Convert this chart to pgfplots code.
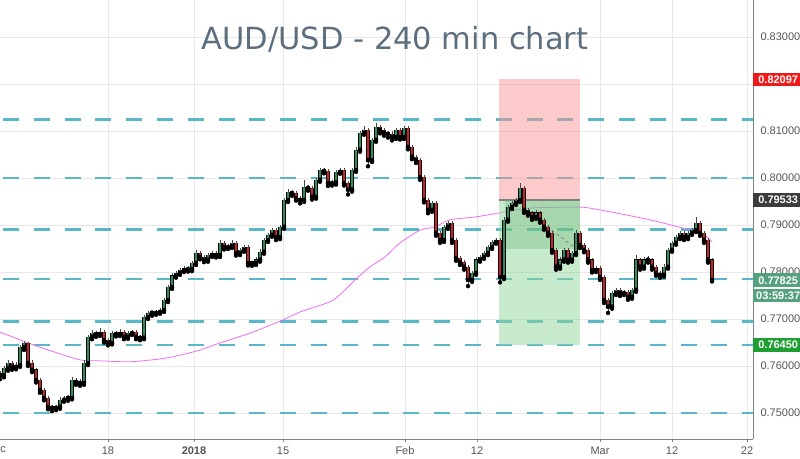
\documentclass[border=0pt]{standalone}
\usepackage{pgfplots}
\usepackage{pgfplotstable}
\pgfplotsset{compat=1.18}
\usepackage{fontspec}
\setmainfont{Liberation Sans}
\newfontfamily\titlefont{DejaVu Sans}

\definecolor{gridgray}{RGB}{232,232,232}
\definecolor{axisgray}{RGB}{130,130,130}
\definecolor{labelgray}{RGB}{85,85,85}
\definecolor{titlecol}{RGB}{93,110,126}
\definecolor{dashcyan}{RGB}{88,184,200}
\definecolor{macol}{RGB}{240,110,240}
\definecolor{upc}{RGB}{45,145,95}
\definecolor{dnc}{RGB}{200,35,40}
\definecolor{wick}{RGB}{70,70,70}
\definecolor{lblred}{RGB}{240,25,25}
\definecolor{lbldark}{RGB}{60,60,60}
\definecolor{lblteal}{RGB}{85,160,125}
\definecolor{lblgreen}{RGB}{30,158,50}
\definecolor{boxred}{RGB}{250,150,150}
\definecolor{boxgreen}{RGB}{145,215,155}
\definecolor{boxgreen2}{RGB}{90,170,100}

\pgfplotstableread{
x o h l c
0 0.7585 0.7590 0.7572 0.7580
4 0.7580 0.7600 0.7576 0.7596
8 0.7596 0.7612 0.7590 0.7606
12 0.7606 0.7610 0.7592 0.7598
16 0.7598 0.7608 0.7593 0.7602
20 0.7602 0.7645 0.7598 0.7640
24 0.7640 0.7653 0.7634 0.7648
28 0.7648 0.7651 0.7600 0.7606
32 0.7606 0.7612 0.7587 0.7592
36 0.7592 0.7596 0.7565 0.7570
40 0.7570 0.7575 0.7543 0.7549
44 0.7549 0.7553 0.7527 0.7532
48 0.7532 0.7536 0.7508 0.7513
52 0.7513 0.7518 0.7504 0.7511
56 0.7511 0.7518 0.7506 0.7513
60 0.7513 0.7533 0.7509 0.7528
64 0.7528 0.7537 0.7524 0.7532
68 0.7532 0.7538 0.7526 0.7532
72 0.7532 0.7576 0.7529 0.7570
76 0.7570 0.7575 0.7560 0.7566
80 0.7566 0.7572 0.7558 0.7564
84 0.7564 0.7612 0.7560 0.7606
88 0.7606 0.7666 0.7602 0.7662
92 0.7662 0.7676 0.7657 0.7670
96 0.7670 0.7674 0.7662 0.7668
100 0.7668 0.7680 0.7664 0.7672
104 0.7672 0.7676 0.7650 0.7655
108 0.7655 0.7659 0.7644 0.7649
112 0.7649 0.7675 0.7646 0.7670
116 0.7670 0.7674 0.7663 0.7668
120 0.7668 0.7678 0.7664 0.7672
124 0.7672 0.7676 0.7657 0.7662
128 0.7662 0.7675 0.7658 0.7670
132 0.7670 0.7677 0.7666 0.7672
136 0.7672 0.7676 0.7657 0.7662
140 0.7662 0.7666 0.7655 0.7660
144 0.7660 0.7708 0.7657 0.7704
148 0.7704 0.7718 0.7700 0.7713
152 0.7713 0.7718 0.7707 0.7713
156 0.7713 0.7720 0.7709 0.7715
160 0.7715 0.7724 0.7711 0.7719
164 0.7719 0.7745 0.7715 0.7740
168 0.7740 0.7773 0.7736 0.7768
172 0.7768 0.7797 0.7764 0.7792
176 0.7792 0.7803 0.7788 0.7798
180 0.7798 0.7809 0.7794 0.7804
184 0.7804 0.7812 0.7800 0.7808
188 0.7808 0.7812 0.7801 0.7806
192 0.7806 0.7824 0.7802 0.7819
196 0.7819 0.7846 0.7815 0.7840
200 0.7840 0.7844 0.7827 0.7832
204 0.7832 0.7836 0.7821 0.7826
208 0.7826 0.7841 0.7822 0.7836
212 0.7836 0.7845 0.7832 0.7840
216 0.7840 0.7844 0.7831 0.7836
220 0.7836 0.7868 0.7832 0.7862
224 0.7862 0.7866 0.7848 0.7853
228 0.7853 0.7860 0.7849 0.7855
232 0.7855 0.7868 0.7851 0.7862
236 0.7862 0.7866 0.7835 0.7840
240 0.7840 0.7852 0.7836 0.7847
244 0.7847 0.7858 0.7843 0.7853
248 0.7853 0.7857 0.7814 0.7819
252 0.7819 0.7824 0.7813 0.7819
256 0.7819 0.7831 0.7815 0.7826
260 0.7826 0.7848 0.7822 0.7843
264 0.7843 0.7873 0.7839 0.7868
268 0.7868 0.7884 0.7864 0.7879
272 0.7879 0.7894 0.7875 0.7889
276 0.7889 0.7893 0.7868 0.7874
280 0.7874 0.7901 0.7870 0.7896
284 0.7896 0.7958 0.7892 0.7953
288 0.7953 0.7976 0.7949 0.7970
292 0.7970 0.7975 0.7962 0.7968
296 0.7968 0.7972 0.7952 0.7957
300 0.7957 0.7961 0.7946 0.7953
304 0.7953 0.7995 0.7949 0.7981
308 0.7981 0.7986 0.7973 0.7979
312 0.7979 0.7983 0.7954 0.7960
316 0.7960 0.8001 0.7956 0.7996
320 0.7996 0.8022 0.7992 0.8017
324 0.8017 0.8021 0.8010 0.8015
328 0.8015 0.8019 0.7983 0.7989
332 0.7989 0.7995 0.7984 0.7990
336 0.7990 0.8018 0.7986 0.8013
340 0.8013 0.8022 0.8009 0.8017
344 0.8017 0.8021 0.7984 0.7989
348 0.7989 0.7993 0.7965 0.7975
352 0.7975 0.8022 0.7971 0.8017
356 0.8017 0.8065 0.8013 0.8060
360 0.8060 0.8101 0.8056 0.8096
364 0.8096 0.8110 0.8092 0.8102
368 0.8102 0.8106 0.8025 0.8038
372 0.8038 0.8086 0.8034 0.8081
376 0.8081 0.8118 0.8077 0.8108
380 0.8108 0.8112 0.8095 0.8102
384 0.8102 0.8106 0.8090 0.8096
388 0.8096 0.8101 0.8086 0.8094
392 0.8094 0.8099 0.8080 0.8087
396 0.8087 0.8107 0.8083 0.8102
400 0.8102 0.8106 0.8082 0.8087
404 0.8087 0.8111 0.8083 0.8106
408 0.8106 0.8110 0.8061 0.8066
412 0.8066 0.8070 0.8040 0.8045
416 0.8045 0.8049 0.8032 0.8038
420 0.8038 0.8042 0.7996 0.8002
424 0.8002 0.8006 0.7948 0.7953
428 0.7953 0.7957 0.7925 0.7932
432 0.7932 0.7952 0.7928 0.7947
436 0.7947 0.7951 0.7877 0.7883
440 0.7883 0.7887 0.7862 0.7868
444 0.7868 0.7901 0.7864 0.7896
448 0.7896 0.7909 0.7892 0.7904
452 0.7904 0.7908 0.7862 0.7868
456 0.7868 0.7872 0.7824 0.7830
460 0.7830 0.7834 0.7815 0.7821
464 0.7821 0.7825 0.7805 0.7811
468 0.7811 0.7815 0.7770 0.7783
472 0.7783 0.7803 0.7779 0.7798
476 0.7798 0.7831 0.7794 0.7826
480 0.7826 0.7837 0.7822 0.7832
484 0.7832 0.7845 0.7828 0.7840
488 0.7840 0.7858 0.7836 0.7853
492 0.7853 0.7869 0.7849 0.7864
496 0.7864 0.7873 0.7860 0.7868
500 0.7868 0.7872 0.7778 0.7789
504 0.7789 0.7916 0.7785 0.7911
508 0.7911 0.7943 0.7907 0.7938
512 0.7938 0.7952 0.7934 0.7947
516 0.7947 0.7958 0.7943 0.7953
520 0.7953 0.7990 0.7949 0.7979
524 0.7979 0.7983 0.7926 0.7932
528 0.7932 0.7936 0.7920 0.7926
532 0.7926 0.7930 0.7911 0.7917
536 0.7917 0.7931 0.7913 0.7926
540 0.7926 0.7930 0.7905 0.7911
544 0.7911 0.7915 0.7890 0.7896
548 0.7896 0.7900 0.7877 0.7883
552 0.7883 0.7887 0.7841 0.7847
556 0.7847 0.7851 0.7805 0.7811
560 0.7811 0.7831 0.7807 0.7826
564 0.7826 0.7852 0.7822 0.7847
568 0.7847 0.7851 0.7820 0.7826
572 0.7826 0.7845 0.7822 0.7840
576 0.7840 0.7890 0.7836 0.7883
580 0.7883 0.7887 0.7851 0.7857
584 0.7857 0.7861 0.7842 0.7847
588 0.7847 0.7851 0.7820 0.7826
592 0.7826 0.7830 0.7799 0.7804
596 0.7804 0.7813 0.7800 0.7808
600 0.7808 0.7812 0.7783 0.7789
604 0.7789 0.7793 0.7734 0.7740
608 0.7740 0.7744 0.7713 0.7726
612 0.7726 0.7760 0.7722 0.7755
616 0.7755 0.7767 0.7751 0.7762
620 0.7762 0.7766 0.7749 0.7755
624 0.7755 0.7762 0.7751 0.7757
628 0.7757 0.7761 0.7741 0.7747
632 0.7747 0.7767 0.7743 0.7762
636 0.7762 0.7836 0.7758 0.7826
640 0.7826 0.7830 0.7805 0.7811
644 0.7811 0.7831 0.7807 0.7826
648 0.7826 0.7833 0.7820 0.7826
652 0.7826 0.7830 0.7805 0.7811
656 0.7811 0.7815 0.7792 0.7798
660 0.7798 0.7802 0.7788 0.7794
664 0.7794 0.7816 0.7790 0.7811
668 0.7811 0.7852 0.7807 0.7847
672 0.7847 0.7867 0.7843 0.7862
676 0.7862 0.7879 0.7858 0.7874
680 0.7874 0.7888 0.7870 0.7883
684 0.7883 0.7887 0.7868 0.7874
688 0.7874 0.7888 0.7870 0.7883
692 0.7883 0.7894 0.7879 0.7889
696 0.7889 0.7917 0.7885 0.7904
700 0.7904 0.7908 0.7877 0.7883
704 0.7883 0.7887 0.7862 0.7868
708 0.7868 0.7872 0.7820 0.7826
712 0.7826 0.7830 0.7780 0.7783
}\candles

\pgfplotstableread{
x y
0 0.7672
40 0.7640
80 0.7613
100 0.7611
130 0.7609
160 0.7615
180 0.7623
200 0.7634
220 0.7649
250 0.7670
283 0.7698
300 0.7715
333 0.7740
357 0.7787
370 0.7811
385 0.7832
400 0.7862
420 0.7889
435 0.7896
450 0.7911
475 0.7917
500 0.7926
530 0.7936
580 0.7938
600 0.7932
650 0.7911
700 0.7883
712 0.7864
}\ma

\begin{document}
\begin{tikzpicture}
\begin{axis}[
  at={(0,0)}, anchor=south west,
  width=753pt, height=439pt, scale only axis,
  xmin=0, xmax=753, ymin=0.74447, ymax=0.83787,
  axis x line*=bottom, axis y line*=right,
  axis line style={draw=axisgray, line width=0.8pt},
  xtick={108,194,283,405,477,600,672,747},
  xticklabels={18,\textbf{2018},15,Feb,12,Mar,12,22},
  ytick={0.75,0.76,0.77,0.78,0.79,0.80,0.81,0.82,0.83},
  yticklabels={0.75000,0.76000,0.77000,0.78000,0.79000,0.80000,0.81000,{},0.83000},
  grid=major, major grid style={draw=gridgray, line width=0.7pt},
  tick align=outside, major tick length=3pt,
  xtick style={draw=axisgray},
  ytick style={draw=none},
  ticklabel style={font=\fontsize{11}{13}\selectfont, text=labelgray},
  xticklabel style={anchor=north, yshift=-1pt},
  yticklabel style={anchor=west, xshift=1pt},
]
% dashed support / resistance levels
\pgfplotsset{lvl/.style={dashcyan, line width=2.6pt, dash pattern=on 16pt off 14.8pt}}
\addplot[lvl] coordinates {(3,0.8125) (753,0.8125)};
\addplot[lvl] coordinates {(3,0.8000) (753,0.8000)};
\addplot[lvl] coordinates {(3,0.7890) (753,0.7890)};
\addplot[lvl] coordinates {(3,0.7785) (753,0.7785)};
\addplot[lvl] coordinates {(3,0.7695) (753,0.7695)};
\addplot[lvl] coordinates {(3,0.7645) (753,0.7645)};
\addplot[lvl] coordinates {(3,0.7500) (753,0.7500)};
% moving average
\addplot[macol, line width=0.8pt, smooth, tension=0.4] table[x=x, y=y] {\ma};
% position tool
\addplot[fill=boxred, draw=none, fill opacity=0.5] coordinates {(499,0.79533) (580,0.79533) (580,0.82097) (499,0.82097)} -- cycle;
\addplot[fill=boxgreen, draw=none, fill opacity=0.5] coordinates {(499,0.7645) (580,0.7645) (580,0.79533) (499,0.79533)} -- cycle;
\addplot[fill=boxgreen2, draw=none, fill opacity=0.3] coordinates {(505,0.7850) (580,0.7850) (580,0.79533) (505,0.79533)} -- cycle;
\addplot[draw=gray, line width=1.5pt] coordinates {(499,0.79533) (580,0.79533)};
\addplot[draw=gray, line width=0.8pt, dashed] coordinates {(542,0.7904) (573,0.7855)};
% wicks
\addplot[only marks, mark=none, error bars/.cd, y dir=plus, y explicit, error mark=none,
  error bar style={line width=0.7pt, draw=wick}]
  table[x=x, y=l, y error expr=\thisrow{h}-\thisrow{l}] {\candles};
% up bodies
\addplot[only marks, mark=none, restrict expr to domain={\thisrow{c}-\thisrow{o}}{0:1},
  error bars/.cd, y dir=both, y explicit, error mark=none,
  error bar style={line width=3.1pt, draw=black}]
  table[x=x, y=o, y error plus expr=\thisrow{c}-\thisrow{o}+0.00006, y error minus expr=0.00006] {\candles};
\addplot[only marks, mark=none, restrict expr to domain={\thisrow{c}-\thisrow{o}}{0:1},
  error bars/.cd, y dir=plus, y explicit, error mark=none,
  error bar style={line width=2.3pt, draw=upc}]
  table[x=x, y=o, y error expr=\thisrow{c}-\thisrow{o}] {\candles};
% down bodies
\addplot[only marks, mark=none, restrict expr to domain={\thisrow{o}-\thisrow{c}}{0:1},
  error bars/.cd, y dir=both, y explicit, error mark=none,
  error bar style={line width=3.1pt, draw=black}]
  table[x=x, y=c, y error plus expr=\thisrow{o}-\thisrow{c}+0.00006, y error minus expr=0.00006] {\candles};
\addplot[only marks, mark=none, restrict expr to domain={\thisrow{o}-\thisrow{c}}{0:1},
  error bars/.cd, y dir=plus, y explicit, error mark=none,
  error bar style={line width=2.3pt, draw=dnc}]
  table[x=x, y=c, y error expr=\thisrow{o}-\thisrow{c}] {\candles};
% title
\node[font=\titlefont\fontsize{30.5}{34}\selectfont, text=titlecol] at (axis cs:395,0.82957) {AUD/USD - 240 min chart};
\coordinate (L1) at (axis cs:753,0.82097);
\coordinate (L2) at (axis cs:753,0.79533);
\coordinate (L3) at (axis cs:753,0.77825);
\coordinate (L4) at (axis cs:753,0.76450);
\coordinate (D0) at (axis cs:-4,0.74447);
\end{axis}
\begin{scope}[every node/.style={anchor=west, text=white, font=\bfseries\fontsize{11}{13}\selectfont, minimum width=50pt, minimum height=13.5pt, inner ysep=1pt, inner xsep=2pt}]
\node[fill=lblred] at (L1) {0.82097};
\node[fill=lbldark] at (L2) {0.79533};
\node[fill=lblteal] (T3) at (L3) {0.77825};
\node[fill=lblteal, anchor=north west] at ([yshift=-1.5pt]T3.south west) {03:59:37};
\node[fill=lblgreen] at (L4) {0.76450};
\end{scope}
\node[anchor=north, yshift=-4pt, font=\fontsize{11}{13}\selectfont, text=labelgray, inner sep=2pt] at (D0) {Dec};
\pgfresetboundingbox
\path[use as bounding box] (0,-19pt) rectangle (800pt,439pt);
\end{tikzpicture}
\end{document}
